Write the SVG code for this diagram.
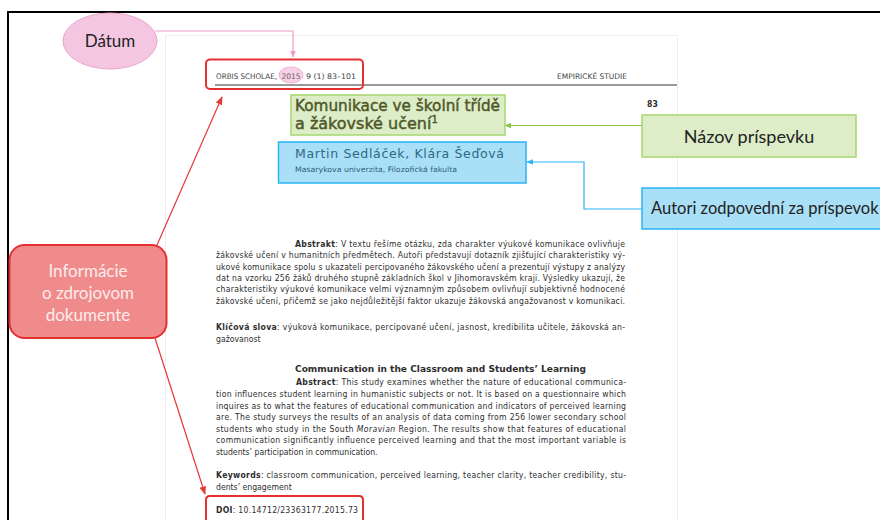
<svg xmlns="http://www.w3.org/2000/svg" width="880" height="520" viewBox="0 0 880 520">
<defs>
<style>
.doc{font-family:"DejaVu Sans Condensed","DejaVu Sans",sans-serif;font-size:8.6px;fill:#2e2e2e}
.b{font-weight:bold}
.lbl{font-family:Lato,"Open Sans",sans-serif;font-size:17px;fill:#222}
.wh{fill:#fdecec}
.hdr{font-family:"DejaVu Sans Condensed","DejaVu Sans",sans-serif;font-size:7.6px;fill:#444}
</style>
<marker id="ar" viewBox="0 0 10 10" refX="9" refY="5" markerWidth="7" markerHeight="7" orient="auto-start-reverse"><path d="M0,1 L10,5 L0,9 z" fill="#e53935"/></marker>
<marker id="ag" viewBox="0 0 10 10" refX="9" refY="5" markerWidth="6" markerHeight="6" orient="auto"><path d="M0,1 L10,5 L0,9 z" fill="#8bc34a"/></marker>
<marker id="ab" viewBox="0 0 10 10" refX="9" refY="5" markerWidth="6" markerHeight="6" orient="auto"><path d="M0,1 L10,5 L0,9 z" fill="#29b6f6"/></marker>
<marker id="ap" viewBox="0 0 10 10" refX="9" refY="5" markerWidth="6" markerHeight="6" orient="auto"><path d="M0,1 L10,5 L0,9 z" fill="#f09ccc"/></marker>
</defs>
<rect width="880" height="520" fill="#fff"/>
<!-- outer frame -->
<path d="M8,520 V12 H880" fill="none" stroke="#000" stroke-width="2"/>
<!-- page -->
<g id="page">
<path d="M165.5,520 V35.5 H677.5 V520" fill="none" stroke="#eeeeee" stroke-width="1"/>
<text class="hdr" x="216" y="79" textLength="61" lengthAdjust="spacingAndGlyphs">ORBIS SCHOLAE,</text>
<text class="hdr" x="306" y="79" textLength="50" lengthAdjust="spacingAndGlyphs">9 (1)  83–101</text>
<text class="hdr" x="557" y="79" textLength="70" lengthAdjust="spacingAndGlyphs">EMPIRICKÉ STUDIE</text>
<line x1="215" y1="85" x2="677" y2="85" stroke="#9a9a9a" stroke-width="2"/>
<text class="doc b" x="647" y="107" font-size="10">83</text>

<text class="doc" x="295" y="247" textLength="330" lengthAdjust="spacing"><tspan class="b">Abstrakt</tspan>: V textu řešíme otázku, zda charakter výukové komunikace ovlivňuje</text>
<text class="doc" x="216" y="258" textLength="409" lengthAdjust="spacing">žákovské učení v humanitních předmětech. Autoři představují dotazník zjišťující charakteristiky vý-</text>
<text class="doc" x="216" y="269.5" textLength="409" lengthAdjust="spacing">ukové komunikace spolu s ukazateli percipovaného žákovského učení a prezentují výstupy z analýzy</text>
<text class="doc" x="216" y="281" textLength="409" lengthAdjust="spacing">dat na vzorku 256 žáků druhého stupně základních škol v Jihomoravském kraji. Výsledky ukazují, že</text>
<text class="doc" x="216" y="292" textLength="409" lengthAdjust="spacing">charakteristiky výukové komunikace velmi významným způsobem ovlivňují subjektivně hodnocené</text>
<text class="doc" x="216" y="303.5" textLength="409" lengthAdjust="spacing">žákovské učení, přičemž se jako nejdůležitější faktor ukazuje žákovská angažovanost v komunikaci.</text>
<text class="doc" x="216" y="330" textLength="409" lengthAdjust="spacing"><tspan class="b">Klíčová slova</tspan>: výuková komunikace, percipované učení, jasnost, kredibilita učitele, žákovská an-</text>
<text class="doc" x="216" y="341.5">gažovanost</text>

<text class="doc b" x="295" y="372" font-size="10.5" textLength="291" lengthAdjust="spacingAndGlyphs">Communication in the Classroom and Students’ Learning</text>
<text class="doc" x="296" y="385" textLength="330" lengthAdjust="spacing"><tspan class="b">Abstract</tspan>: This study examines whether the nature of educational communica-</text>
<text class="doc" x="216" y="397" textLength="410" lengthAdjust="spacing">tion influences student learning in humanistic subjects or not. It is based on a questionnaire which</text>
<text class="doc" x="216" y="408.5" textLength="410" lengthAdjust="spacing">inquires as to what the features of educational communication and indicators of perceived learning</text>
<text class="doc" x="216" y="420" textLength="410" lengthAdjust="spacing">are. The study surveys the results of an analysis of data coming from 256 lower secondary school</text>
<text class="doc" x="216" y="431.5" textLength="410" lengthAdjust="spacing">students who study in the South <tspan font-style="italic">Moravian</tspan> Region. The results show that features of educational</text>
<text class="doc" x="216" y="443" textLength="410" lengthAdjust="spacing">communication significantly influence perceived learning and that the most important variable is</text>
<text class="doc" x="216" y="454.5">students’ participation in communication.</text>
<text class="doc" x="216" y="478" textLength="410" lengthAdjust="spacing"><tspan class="b">Keywords</tspan>: classroom communication, perceived learning, teacher clarity, teacher credibility, stu-</text>
<text class="doc" x="216" y="489.5">dents’ engagement</text>
<text class="doc" x="216" y="513" textLength="142" lengthAdjust="spacing"><tspan class="b">DOI</tspan>: 10.14712/23363177.2015.73</text>
</g>

<!-- highlight boxes -->
<g id="header-box">
<ellipse cx="291" cy="75" rx="12" ry="8" fill="#f5c2e0" fill-opacity="0.75" stroke="#e9a6cc" stroke-width="0.8"/>
<text class="hdr" x="281.5" y="79" textLength="19" lengthAdjust="spacingAndGlyphs" style="fill:#666">2015</text>
<rect x="206" y="59.5" width="157" height="29.5" rx="4" fill="none" stroke="#e53030" stroke-width="2"/>
</g>
<g id="title-box">
<rect x="291" y="95" width="214" height="40" fill="#dcedc8" stroke="#a5d66f" stroke-width="1.5"/>
<text x="295" y="111" font-family="'DejaVu Sans',sans-serif" font-size="16" fill="#4e5728" stroke="#4e5728" stroke-width="0.45" textLength="205" lengthAdjust="spacingAndGlyphs">Komunikace ve školní třídě</text>
<text x="295" y="129" font-family="'DejaVu Sans',sans-serif" font-size="16" fill="#4e5728" stroke="#4e5728" stroke-width="0.45">a žákovské učení<tspan font-size="10" dy="-6">1</tspan></text>
</g>
<g id="authors-box">
<rect x="278.5" y="142" width="247.5" height="41" fill="#a9dff7" stroke="#29b6f6" stroke-width="1.5"/>
<text x="295" y="158" font-family="'DejaVu Sans',sans-serif" font-size="12.5" fill="#2e6a86" textLength="209" lengthAdjust="spacing">Martin Sedláček, Klára Šeďová</text>
<text x="295" y="172" font-family="'DejaVu Sans Condensed','DejaVu Sans',sans-serif" font-size="7.5" fill="#2e5f78" textLength="162" lengthAdjust="spacingAndGlyphs">Masarykova univerzita, Filozofická fakulta</text>
</g>
<g id="doi-box">
<path d="M206,522 V500 Q206,496 210,496 H359 Q363,496 363,500 V522" fill="none" stroke="#e53030" stroke-width="2"/>
</g>

<!-- callout nodes -->
<g id="datum">
<ellipse cx="110" cy="41" rx="47" ry="28" fill="#f5c6e2" stroke="#e9a4cc" stroke-width="1"/>
<text class="lbl" x="110" y="47" text-anchor="middle">Dátum</text>
</g>
<g id="nazov">
<rect x="642" y="115" width="214" height="42" fill="#dcedc8" stroke="#a5d66f" stroke-width="1.5"/>
<text class="lbl" x="749" y="143" text-anchor="middle" style="font-size:18px">Názov príspevku</text>
</g>
<g id="autori">
<rect x="642" y="188" width="248" height="41" fill="#a9dff7" stroke="#29b6f6" stroke-width="1.5"/>
<text class="lbl" x="651" y="214" style="font-size:16.5px">Autori zodpovední za príspevok</text>
</g>
<g id="informacie">
<rect x="9.5" y="245" width="157" height="93" rx="15" fill="#ef8b8b" stroke="#e53030" stroke-width="2"/>
<text class="lbl wh" x="88" y="277" text-anchor="middle">Informácie</text>
<text class="lbl wh" x="88" y="299" text-anchor="middle">o zdrojovom</text>
<text class="lbl wh" x="88" y="321" text-anchor="middle">dokumente</text>
</g>

<g id="connectors" fill="none">
<path d="M155,31 H293 V57" stroke="#f09ccc" stroke-width="1.2" marker-end="url(#ap)"/>
<path d="M642,125.5 H505" stroke="#8bc34a" stroke-width="1.2" marker-end="url(#ag)"/>
<path d="M642,209 H584 V162 H527" stroke="#29b6f6" stroke-width="1.2" marker-end="url(#ab)"/>
<path d="M157,245 L222,97" stroke="#e53935" stroke-width="1.2" marker-end="url(#ar)"/>
<path d="M155,338 L205,494" stroke="#e53935" stroke-width="1.2" marker-end="url(#ar)"/>
</g>
</svg>
